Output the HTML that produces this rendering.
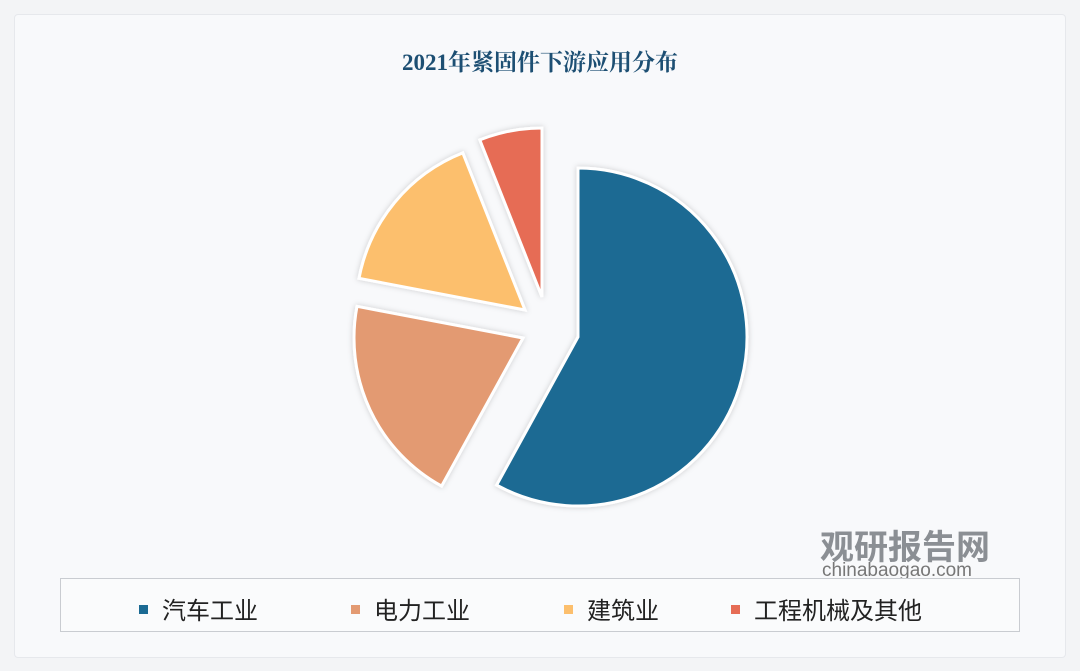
<!DOCTYPE html>
<html><head><meta charset="utf-8"><style>
html,body{margin:0;padding:0;}
body{width:1080px;height:671px;background:#f3f4f6;font-family:"Liberation Sans","Noto Sans CJK SC",sans-serif;position:relative;overflow:hidden;}
.card{position:absolute;left:14px;top:14px;width:1050px;height:642px;background:#f8f9fb;border:1px solid #e6e8ec;border-radius:4px;}
.title{position:absolute;left:0;width:1080px;top:44px;text-align:center;font-family:"Liberation Serif","Noto Serif CJK SC",serif;font-weight:bold;font-size:23px;color:#1d4f73;}
.legend{position:absolute;left:60px;top:578px;width:958px;height:52px;border:1px solid #c9ccd1;background:#fafbfc;}
.li{position:absolute;top:12px;font-size:24px;color:#222;font-family:"Liberation Sans","Noto Sans CJK SC",sans-serif;}
.sw{display:inline-block;width:9px;height:9px;margin-right:14px;vertical-align:middle;position:relative;top:-3px;}
.wm{position:absolute;left:740px;top:520px;color:#8b8f94;font-weight:bold;}
</style></head><body>
<div class="card"></div>
<div class="title">2021年紧固件下游应用分布</div>
<svg width="1080" height="671" style="position:absolute;left:0;top:0">
<defs><filter id="sh" x="-20%" y="-20%" width="140%" height="140%"><feDropShadow dx="0" dy="0" stdDeviation="3" flood-color="#000" flood-opacity="0.18"/></filter></defs>
<g id="pie" filter="url(#sh)"></g>
</svg>
<div class="wm" style="font-size:34px;left:820px;top:520px;font-family:'Liberation Sans','Noto Sans CJK SC',sans-serif;">观研报告网</div>
<div class="wm" style="font-size:19px;left:822px;top:560px;font-weight:normal;color:#777;">chinabaogao.com</div>
<div class="legend">
<div class="li" style="left:78px"><span class="sw" style="background:#1b6a93"></span>汽车工业</div>
<div class="li" style="left:290px"><span class="sw" style="background:#e39a72"></span>电力工业</div>
<div class="li" style="left:503px"><span class="sw" style="background:#fcbf6d"></span>建筑业</div>
<div class="li" style="left:670px"><span class="sw" style="background:#e66c55"></span>工程机械及其他</div>
</div>
<script>
const categories = ["汽车工业","电力工业","建筑业","工程机械及其他"];
const values = [58, 20, 16, 6];
const colors = ["#1b6a93","#e39a72","#fcbf6d","#e66c55"];
const cx = 578, cy = 337, r = 169;
const explode = [[0,0],[-55,1],[-53,-27],[-36,-40]];
const g = document.getElementById('pie');
const total = values.reduce((a,b)=>a+b,0);
let a0 = 0;
values.forEach((v,i)=>{
  const a1 = a0 + v/total*2*Math.PI;
  const ox = cx + explode[i][0], oy = cy + explode[i][1];
  const x0 = ox + r*Math.sin(a0), y0 = oy - r*Math.cos(a0);
  const x1 = ox + r*Math.sin(a1), y1 = oy - r*Math.cos(a1);
  const large = (a1-a0) > Math.PI ? 1 : 0;
  const p = document.createElementNS('http://www.w3.org/2000/svg','path');
  p.setAttribute('d',`M${ox},${oy} L${x0},${y0} A${r},${r} 0 ${large} 1 ${x1},${y1} Z`);
  p.setAttribute('fill',colors[i]);
  p.setAttribute('stroke','#ffffff');
  p.setAttribute('stroke-width','3');
  
  
  g.appendChild(p);
  a0 = a1;
});
</script>
</body></html>
